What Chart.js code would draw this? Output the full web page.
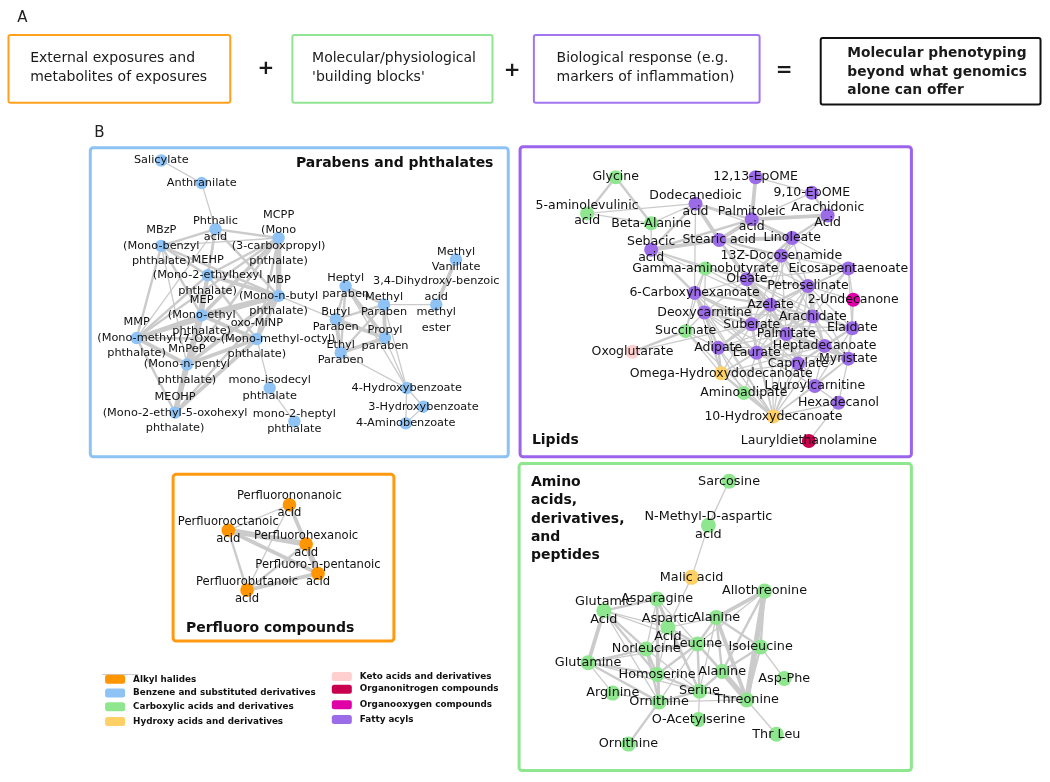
<!DOCTYPE html>
<html>
<head>
<meta charset="utf-8">
<title>Molecular phenotyping network</title>
<script src="https://cdn.jsdelivr.net/npm/chart.js@4.4.0/dist/chart.umd.min.js"></script>
<style>
  html, body { margin: 0; padding: 0; background: #fff; }
  #wrap { width: 1050px; height: 782px; }
</style>
</head>
<body>
<div id="wrap"><canvas id="network" width="1050" height="782"></canvas></div>
<script>
// ---- chemical classes (legend) ----
const classNames = ['Alkyl halides', 'Benzene and substituted derivatives', 'Carboxylic acids and derivatives',
  'Hydroxy acids and derivatives', 'Keto acids and derivatives', 'Organonitrogen compounds',
  'Organooxygen compounds', 'Fatty acyls'];
const classColors = ['#ff9500', '#8fc3f6', '#8ee68e', '#ffd066', '#ffcfcf', '#c8004e', '#e000a8', '#9b6be8'];

// ---- Parabens and phthalates ----
const pbIds = ['sal', 'ant', 'pht', 'mcpp', 'mbzp', 'mehp', 'mbp', 'mep', 'mmp', 'oxo', 'mnpep', 'meohp',
  'isod', 'hept2', 'hepP', 'metP', 'butP', 'proP', 'ethP', 'dhb', 'mvan', 'hb4', 'hb3', 'ab4'];
const pbLabels = ['Salicylate', 'Anthranilate', 'Phthalic\nacid', 'MCPP\n(Mono\n(3-carboxpropyl)\nphthalate)',
  'MBzP\n(Mono-benzyl\nphthalate)', 'MEHP\n(Mono-2-ethylhexyl\nphthalate)', 'MBP\n(Mono-n-butyl\nphthalate)',
  'MEP\n(Mono-ethyl\nphthalate)', 'MMP\n(Mono-methyl\nphthalate)', 'oxo-MiNP\n(7-Oxo-(Mono-methyl-octyl)\nphthalate)',
  'MnPeP\n(Mono-n-pentyl\nphthalate)', 'MEOHP\n(Mono-2-ethyl-5-oxohexyl\nphthalate)', 'mono-isodecyl\nphthalate',
  'mono-2-heptyl\nphthalate', 'Heptyl\nparaben', 'Methyl\nParaben', 'Butyl\nParaben', 'Propyl\nparaben',
  'Ethyl\nParaben', '3,4-Dihydroxy-benzoic\nacid\nmethyl\nester', 'Methyl\nVanillate', '4-Hydroxybenzoate',
  '3-Hydroxybenzoate', '4-Aminobenzoate'];
const pbX = [156, 197, 211, 275, 156, 203, 275, 197, 131, 253, 182, 170, 266, 291, 343, 382, 333, 383, 338, 435, 455, 405, 422, 404];
const pbY = [156, 179, 226, 235, 243, 273, 294, 314, 337, 338, 364, 413, 388, 422, 284, 303, 318, 337, 352, 303, 257, 388, 407, 424];
const pbClass = [1, 1, 1, 1, 1, 1, 1, 1, 1, 1, 1, 1, 1, 1, 1, 1, 1, 1, 1, 1, 1, 1, 1, 1];
const pbEdges = [
  ['sal', 'ant', 1], ['ant', 'pht', 1],
  ['pht', 'mbzp', 2], ['pht', 'mcpp', 2], ['pht', 'mehp', 2], ['pht', 'mbp', 2], ['pht', 'mep', 2], ['pht', 'mmp', 1],
  ['mcpp', 'mehp', 2], ['mcpp', 'mbp', 4], ['mcpp', 'mep', 3], ['mcpp', 'mmp', 2], ['mcpp', 'oxo', 2], ['mcpp', 'mnpep', 2], ['mcpp', 'mbzp', 1],
  ['mbzp', 'mehp', 2], ['mbzp', 'mep', 2], ['mbzp', 'mmp', 2], ['mbzp', 'mnpep', 1], ['mbzp', 'mbp', 2],
  ['mehp', 'mbp', 3], ['mehp', 'mep', 3], ['mehp', 'mmp', 2], ['mehp', 'mnpep', 2], ['mehp', 'meohp', 2], ['mehp', 'oxo', 2],
  ['mbp', 'mep', 4], ['mbp', 'mmp', 3], ['mbp', 'oxo', 3], ['mbp', 'mnpep', 3], ['mbp', 'meohp', 2], ['mbp', 'butP', 1],
  ['mep', 'mmp', 3], ['mep', 'oxo', 3], ['mep', 'mnpep', 4], ['mep', 'meohp', 3],
  ['mmp', 'mnpep', 3], ['mmp', 'oxo', 2], ['mmp', 'meohp', 2],
  ['oxo', 'mnpep', 3], ['oxo', 'meohp', 3], ['oxo', 'isod', 1], ['mnpep', 'meohp', 4], ['isod', 'hept2', 1],
  ['hepP', 'butP', 2], ['hepP', 'metP', 2], ['hepP', 'proP', 3], ['hepP', 'ethP', 2], ['hepP', 'hb4', 1],
  ['metP', 'butP', 2], ['metP', 'proP', 3], ['metP', 'ethP', 2], ['metP', 'dhb', 1], ['metP', 'hb4', 1],
  ['butP', 'proP', 3], ['butP', 'ethP', 3], ['proP', 'ethP', 3], ['proP', 'hb4', 1], ['ethP', 'hb4', 1],
  ['dhb', 'mvan', 3], ['hb4', 'hb3', 1], ['hb4', 'ab4', 1], ['hb3', 'ab4', 1]
];

// ---- Lipids ----
const lpIds = ['gly', 'ala5', 'bala', 'dod', 'ep1213', 'ep910', 'palo', 'arach', 'seb', 'stea', 'lino', 'doco',
  'gaba', 'epa', 'ole', 'pet', 'carb6', 'und', 'aze', 'arachd', 'deoxy', 'sub', 'ela', 'succ', 'palm', 'oxog',
  'adip', 'laur', 'hepta', 'capr', 'myri', 'omega', 'laurc', 'amad', 'hexd', 'hyd10', 'laurd'];
const lpLabels = ['Glycine', '5-aminolevulinic\nacid', 'Beta-Alanine', 'Dodecanedioic\nacid', '12,13-EpOME',
  '9,10-EpOME', 'Palmitoleic\nacid', 'Arachidonic\nAcid', 'Sebacic\nacid', 'Stearic acid', 'Linoleate',
  '13Z-Docosenamide', 'Gamma-aminobutyrate', 'Eicosapentaenoate', 'Oleate', 'Petroselinate', '6-Carboxyhexanoate',
  '2-Undecanone', 'Azelate', 'Arachidate', 'Deoxycarnitine', 'Suberate', 'Elaidate', 'Succinate', 'Palmitate',
  'Oxoglutarate', 'Adipate', 'Laurate', 'Heptadecanoate', 'Caprylate', 'Myristate', 'Omega-Hydroxydodecanoate',
  'Lauroylcarnitine', 'Aminoadipate', 'Hexadecanol', '10-Hydroxydecanoate', 'Lauryldiethanolamine'];
const lpX = [617, 588, 653, 698, 759, 816, 755, 832, 653, 722, 796, 785, 708, 853, 750, 812, 697, 858, 774, 817,
  707, 755, 857, 688, 790, 634, 721, 760, 829, 802, 853, 724, 819, 747, 843, 777, 813];
const lpY = [173, 210, 220, 200, 173, 189, 216, 212, 247, 237, 235, 253, 266, 266, 277, 284, 291, 298, 303, 315,
  311, 323, 327, 330, 333, 351, 347, 352, 345, 363, 358, 373, 386, 393, 403, 417, 442];
const lpClass = [2, 2, 2, 7, 7, 7, 7, 7, 7, 7, 7, 7, 2, 7, 7, 7, 7, 6, 7, 7, 7, 7, 7, 2, 7, 4, 7, 7, 7, 7, 7, 3, 7, 2, 7, 3, 5];
const lpEdges = [
  ['gly', 'ala5', 2], ['gly', 'bala', 2], ['ala5', 'bala', 1], ['ala5', 'dod', 1], ['bala', 'dod', 1], ['bala', 'seb', 1],
  ['dod', 'seb', 2], ['dod', 'stea', 3], ['dod', 'palo', 2], ['dod', 'carb6', 1], ['dod', 'lino', 1],
  ['ep1213', 'palo', 3], ['ep1213', 'ep910', 1], ['ep910', 'arach', 2], ['ep910', 'palo', 1],
  ['palo', 'arach', 3], ['palo', 'stea', 3], ['palo', 'lino', 2], ['palo', 'seb', 2], ['arach', 'lino', 2], ['arach', 'doco', 1],
  ['stea', 'seb', 3], ['stea', 'lino', 3], ['stea', 'ole', 2], ['stea', 'doco', 2], ['stea', 'aze', 1], ['stea', 'pet', 1],
  ['lino', 'doco', 2], ['lino', 'ole', 2], ['lino', 'pet', 1], ['lino', 'aze', 1], ['lino', 'epa', 1],
  ['seb', 'gaba', 1], ['seb', 'carb6', 2], ['seb', 'ole', 1], ['seb', 'aze', 1],
  ['gaba', 'carb6', 1], ['gaba', 'deoxy', 1], ['gaba', 'succ', 1], ['gaba', 'ole', 1], ['gaba', 'aze', 1],
  ['doco', 'ole', 2], ['doco', 'pet', 2], ['doco', 'epa', 1], ['doco', 'aze', 1], ['doco', 'sub', 1], ['doco', 'arachd', 1], ['doco', 'palm', 1],
  ['epa', 'und', 1], ['epa', 'pet', 1], ['epa', 'ole', 1], ['epa', 'ela', 1], ['epa', 'arachd', 1], ['epa', 'palm', 1], ['epa', 'aze', 1],
  ['ole', 'pet', 2], ['ole', 'aze', 2], ['ole', 'sub', 2], ['ole', 'palm', 2], ['ole', 'carb6', 1], ['ole', 'deoxy', 1],
  ['ole', 'arachd', 1], ['ole', 'laur', 1], ['ole', 'hepta', 1], ['ole', 'ela', 1], ['ole', 'capr', 1],
  ['pet', 'aze', 2], ['pet', 'arachd', 2], ['pet', 'ela', 1], ['pet', 'palm', 2], ['pet', 'hepta', 1], ['pet', 'und', 1],
  ['pet', 'sub', 1], ['pet', 'laur', 1], ['pet', 'myri', 1], ['pet', 'capr', 1],
  ['carb6', 'aze', 2], ['carb6', 'deoxy', 2], ['carb6', 'sub', 2], ['carb6', 'adip', 1], ['carb6', 'succ', 1], ['carb6', 'hyd10', 1],
  ['carb6', 'palm', 1], ['carb6', 'laur', 1], ['carb6', 'omega', 1],
  ['und', 'ela', 1], ['und', 'myri', 1],
  ['aze', 'arachd', 2], ['aze', 'deoxy', 2], ['aze', 'sub', 2], ['aze', 'palm', 2], ['aze', 'laur', 1], ['aze', 'adip', 1],
  ['aze', 'hepta', 1], ['aze', 'hyd10', 1], ['aze', 'ela', 1], ['aze', 'capr', 1], ['aze', 'myri', 1],
  ['arachd', 'ela', 2], ['arachd', 'palm', 2], ['arachd', 'hepta', 2], ['arachd', 'sub', 1], ['arachd', 'capr', 1], ['arachd', 'myri', 1],
  ['arachd', 'laur', 1], ['arachd', 'adip', 1], ['arachd', 'hyd10', 1],
  ['deoxy', 'sub', 2], ['deoxy', 'adip', 2], ['deoxy', 'succ', 1], ['deoxy', 'laur', 1], ['deoxy', 'omega', 1], ['deoxy', 'hyd10', 1],
  ['deoxy', 'arachd', 1], ['deoxy', 'palm', 1], ['deoxy', 'capr', 1],
  ['sub', 'palm', 2], ['sub', 'adip', 2], ['sub', 'laur', 2], ['sub', 'hepta', 1], ['sub', 'capr', 1], ['sub', 'omega', 1], ['sub', 'hyd10', 1],
  ['sub', 'myri', 1], ['sub', 'ela', 1],
  ['ela', 'hepta', 2], ['ela', 'myri', 1], ['ela', 'palm', 1], ['ela', 'laurc', 1],
  ['succ', 'adip', 1], ['succ', 'oxog', 2], ['succ', 'omega', 1], ['succ', 'hyd10', 1], ['oxog', 'sub', 1],
  ['palm', 'laur', 2], ['palm', 'hepta', 2], ['palm', 'capr', 2], ['palm', 'myri', 1], ['palm', 'adip', 1], ['palm', 'hyd10', 1],
  ['palm', 'omega', 1], ['palm', 'laurc', 1],
  ['adip', 'laur', 2], ['adip', 'omega', 2], ['adip', 'capr', 1], ['adip', 'amad', 1], ['adip', 'hyd10', 1],
  ['laur', 'capr', 2], ['laur', 'hepta', 1], ['laur', 'omega', 1], ['laur', 'laurc', 1], ['laur', 'hyd10', 1], ['laur', 'amad', 1], ['laur', 'myri', 1],
  ['hepta', 'capr', 2], ['hepta', 'myri', 2], ['hepta', 'laurc', 1], ['hepta', 'adip', 1], ['hepta', 'omega', 1], ['hepta', 'hyd10', 1],
  ['capr', 'myri', 1], ['capr', 'laurc', 1], ['capr', 'omega', 1], ['capr', 'hyd10', 1],
  ['myri', 'laurc', 1], ['myri', 'hexd', 1], ['myri', 'hyd10', 1], ['omega', 'amad', 1], ['omega', 'hyd10', 2],
  ['laurc', 'hexd', 1], ['laurc', 'hyd10', 1], ['laurc', 'amad', 1], ['amad', 'hyd10', 2],
  ['hexd', 'hyd10', 1], ['hexd', 'laurd', 1]
];

// ---- Perfluoro compounds ----
const pfIds = ['pfna', 'pfoa', 'pfhx', 'pfpe', 'pfba'];
const pfLabels = ['Perfluorononanoic\nacid', 'Perfluorooctanoic\nacid', 'Perfluorohexanoic\nacid',
  'Perfluoro-n-pentanoic\nacid', 'Perfluorobutanoic\nacid'];
const pfX = [286, 224, 303, 315, 243];
const pfY = [507, 533, 547, 577, 594];
const pfClass = [0, 0, 0, 0, 0];
const pfEdges = [
  ['pfna', 'pfoa', 1], ['pfna', 'pfhx', 3], ['pfna', 'pfba', 1], ['pfoa', 'pfhx', 4], ['pfoa', 'pfpe', 3],
  ['pfoa', 'pfba', 2], ['pfhx', 'pfpe', 4], ['pfhx', 'pfba', 2], ['pfpe', 'pfba', 3]
];

// ---- Amino acids, derivatives, and peptides ----
const amIds = ['sarc', 'nmda', 'malic', 'allo', 'glu', 'asn', 'asp', 'ala1', 'leu', 'ile', 'nle', 'gln', 'hser',
  'ala2', 'aspphe', 'arg', 'ser', 'thr', 'orn1', 'oaser', 'thrleu', 'orn2'];
const amLabels = ['Sarcosine', 'N-Methyl-D-aspartic\nacid', 'Malic acid', 'Allothreonine', 'Glutamic\nAcid',
  'Asparagine', 'Aspartic\nAcid', 'Alanine', 'Leucine', 'Isoleucine', 'Norleucine', 'Glutamine', 'Homoserine',
  'Alanine', 'Asp-Phe', 'Arginine', 'Serine', 'Threonine', 'Ornithine', 'O-Acetylserine', 'Thr Leu', 'Ornithine'];
const amX = [732, 711, 694, 768, 605, 659, 670, 719, 700, 764, 648, 589, 659, 725, 788, 614, 702, 750, 661, 701, 780, 630];
const amY = [483, 528, 581, 595, 615, 603, 632, 622, 649, 652, 654, 668, 680, 677, 684, 699, 697, 706, 708, 726, 741, 751];
const amClass = [2, 2, 3, 2, 2, 2, 2, 2, 2, 2, 2, 2, 2, 2, 2, 2, 2, 2, 2, 2, 2, 2];
const amEdges = [
  ['sarc', 'nmda', 1], ['nmda', 'malic', 1], ['malic', 'asp', 1],
  ['glu', 'asn', 2], ['glu', 'gln', 3], ['glu', 'nle', 2], ['glu', 'hser', 2], ['glu', 'leu', 1], ['glu', 'asp', 1], ['glu', 'orn1', 1],
  ['asn', 'asp', 2], ['asn', 'hser', 2], ['asn', 'nle', 1], ['asn', 'orn1', 2], ['asn', 'ser', 2], ['asn', 'leu', 1],
  ['asp', 'leu', 2], ['asp', 'nle', 1], ['asp', 'hser', 1], ['asp', 'ser', 1],
  ['ala1', 'allo', 3], ['ala1', 'ile', 2], ['ala1', 'thr', 3], ['ala1', 'leu', 2], ['ala1', 'ala2', 2], ['ala1', 'ser', 1], ['ala1', 'asp', 1],
  ['allo', 'ile', 2], ['allo', 'thr', 4], ['allo', 'ala2', 2], ['allo', 'leu', 1],
  ['ile', 'ala2', 2], ['ile', 'thr', 2], ['ile', 'aspphe', 1], ['ile', 'leu', 1],
  ['ala2', 'thr', 4], ['ala2', 'ser', 2], ['ala2', 'leu', 2],
  ['leu', 'hser', 2], ['leu', 'nle', 2], ['leu', 'ser', 2], ['leu', 'thr', 2], ['leu', 'gln', 1], ['leu', 'orn1', 1],
  ['gln', 'hser', 2], ['gln', 'nle', 2], ['gln', 'arg', 1], ['gln', 'orn1', 2], ['gln', 'ser', 1],
  ['nle', 'hser', 2], ['nle', 'orn1', 2], ['nle', 'ser', 1], ['hser', 'orn1', 2], ['hser', 'ser', 2],
  ['arg', 'orn1', 1], ['orn1', 'ser', 2], ['orn1', 'orn2', 2], ['orn1', 'thr', 1],
  ['ser', 'oaser', 1], ['ser', 'thr', 2], ['thr', 'thrleu', 1]
];

// ---- panel A text ----
const headerLines = [
  ['External exposures and', 'metabolites of exposures'],
  ['Molecular/physiological', "'building blocks'"],
  ['Biological response (e.g.', 'markers of inflammation)'],
  ['Molecular phenotyping', 'beyond what genomics', 'alone can offer']
];
const headerOps = ['+', '+', '='];

// ---- layout (positions, sizes, styles) ----
const FONT = '"DejaVu Sans", Verdana, sans-serif';
const edgeWidths = [0, 1.3, 2.4, 3.8, 5.5];
const edgeColor = '#cbcbcb';
const clusters = [
  { ids: pbIds, labels: pbLabels, xs: pbX, ys: pbY, cls: pbClass, edges: pbEdges, radius: 6.2, font: 11.3, lineH: 15.5 },
  { ids: lpIds, labels: lpLabels, xs: lpX, ys: lpY, cls: lpClass, edges: lpEdges, radius: 7, font: 12.5, lineH: 15.5 },
  { ids: pfIds, labels: pfLabels, xs: pfX, ys: pfY, cls: pfClass, edges: pfEdges, radius: 6.8, font: 11.6, lineH: 17 },
  { ids: amIds, labels: amLabels, xs: amX, ys: amY, cls: amClass, edges: amEdges, radius: 7.5, font: 12.8, lineH: 18 }
];
const headerBoxes = [
  { x0: 1, y0: 28, x1: 226, y1: 97, color: '#ffa11e', tx: 23, ty: [52, 71], bold: false },
  { x0: 289, y0: 28, x1: 492, y1: 97, color: '#92e492', tx: 309, ty: [52, 71], bold: false },
  { x0: 534, y0: 28, x1: 763, y1: 97, color: '#a274f0', tx: 557, ty: [52, 71], bold: false },
  { x0: 825, y0: 31, x1: 1048, y1: 99, color: '#111111', tx: 852, ty: [47, 66, 85], bold: true }
];
const opPos = [[262, 63], [512, 65], [788, 65]];
const panelBoxes = [
  { x0: 84, y0: 143, x1: 508, y1: 458, color: '#8cc2f4' },
  { x0: 520, y0: 142, x1: 917, y1: 458, color: '#9c63ec' },
  { x0: 168, y0: 476, x1: 392, y1: 646, color: '#ff9a10' },
  { x0: 519, y0: 465, x1: 917, y1: 778, color: '#8ee68e' }
];
const panelTitles = [
  { lines: ['Parabens and phthalates'], x: 493, y: 159, align: 'right' },
  { lines: ['Lipids'], x: 532, y: 441, align: 'left' },
  { lines: ['Perfluoro compounds'], x: 181, y: 633, align: 'left' },
  { lines: ['Amino', 'acids,', 'derivatives,', 'and', 'peptides'], x: 531, y: 484, align: 'left', lineH: 18.7 }
];
const legendPos = [
  [99, 685], [99, 699], [99, 713], [99, 728], [329, 682], [329, 695], [329, 711], [329, 726]
];

// ---- build datasets ----
function lookup(c, id) {
  const i = c.ids.indexOf(id);
  return { x: c.xs[i], y: c.ys[i] };
}

const datasets = [];
clusters.forEach(c => {
  c.edges.forEach(e => {
    datasets.push({
      data: [lookup(c, e[0]), lookup(c, e[1])],
      showLine: true,
      borderColor: edgeColor,
      borderWidth: edgeWidths[e[2]],
      pointRadius: 0,
      pointHoverRadius: 0,
      order: 2
    });
  });
});
clusters.forEach(c => {
  datasets.push({
    data: c.ids.map((id, i) => ({ x: c.xs[i], y: c.ys[i] })),
    pointRadius: c.radius,
    pointHoverRadius: c.radius,
    pointBorderWidth: 0,
    backgroundColor: c.cls.map(k => classColors[k]),
    borderColor: c.cls.map(k => classColors[k]),
    order: 1
  });
});

function roundRect(ctx, x, y, w, h, r) {
  ctx.beginPath();
  ctx.moveTo(x + r, y);
  ctx.arcTo(x + w, y, x + w, y + h, r);
  ctx.arcTo(x + w, y + h, x, y + h, r);
  ctx.arcTo(x, y + h, x, y, r);
  ctx.arcTo(x, y, x + w, y, r);
  ctx.closePath();
}

// panels, headers, titles and legend behind the network
const backdropPlugin = {
  id: 'backdrop',
  beforeDatasetsDraw(chart) {
    const ctx = chart.ctx;
    const X = v => chart.scales.x.getPixelForValue(v);
    const Y = v => chart.scales.y.getPixelForValue(v);
    ctx.save();
    ctx.textBaseline = 'middle';

    // panel letters
    ctx.fillStyle = '#222';
    ctx.font = '15px ' + FONT;
    ctx.textAlign = 'left';
    ctx.fillText('A', X(10), Y(11));
    ctx.fillText('B', X(88), Y(128));

    // header boxes
    headerBoxes.forEach((b, i) => {
      ctx.strokeStyle = b.color;
      ctx.lineWidth = 2;
      roundRect(ctx, X(b.x0), Y(b.y0), X(b.x1) - X(b.x0), Y(b.y1) - Y(b.y0), 2);
      ctx.stroke();
      ctx.fillStyle = '#1a1a1a';
      ctx.font = (b.bold ? 'bold 13.8px ' : '14px ') + FONT;
      headerLines[i].forEach((t, k) => ctx.fillText(t, X(b.tx), Y(b.ty[k])));
    });
    ctx.font = 'bold 20px ' + FONT;
    ctx.textAlign = 'center';
    headerOps.forEach((op, i) => ctx.fillText(op, X(opPos[i][0]), Y(opPos[i][1])));

    // panel boxes
    panelBoxes.forEach(b => {
      ctx.strokeStyle = b.color;
      ctx.lineWidth = 3;
      roundRect(ctx, X(b.x0), Y(b.y0), X(b.x1) - X(b.x0), Y(b.y1) - Y(b.y0), 3);
      ctx.stroke();
    });

    // panel titles
    ctx.fillStyle = '#111';
    ctx.font = 'bold 14px ' + FONT;
    panelTitles.forEach(t => {
      ctx.textAlign = t.align;
      t.lines.forEach((ln, k) => ctx.fillText(ln, X(t.x), Y(t.y + k * (t.lineH || 0))));
    });

    // legend
    ctx.strokeStyle = '#c9c9c9';
    ctx.lineWidth = 1;
    ctx.beginPath();
    ctx.moveTo(X(96), Y(680));
    ctx.lineTo(X(133), Y(680));
    ctx.stroke();
    ctx.font = 'bold 8.8px ' + FONT;
    ctx.textAlign = 'left';
    classNames.forEach((name, i) => {
      const [lx, ly] = legendPos[i];
      ctx.fillStyle = classColors[i];
      roundRect(ctx, X(lx), Y(ly) - 4.5, 20, 9, 2.5);
      ctx.fill();
      ctx.fillStyle = '#111';
      ctx.fillText(name, X(lx) + 28, Y(ly));
    });
    ctx.restore();
  }
};

// node labels on top of the network
const labelPlugin = {
  id: 'nodeLabels',
  afterDatasetsDraw(chart) {
    const ctx = chart.ctx;
    const xs = chart.scales.x, ys = chart.scales.y;
    ctx.save();
    ctx.fillStyle = '#111';
    ctx.textAlign = 'center';
    ctx.textBaseline = 'middle';
    clusters.forEach(c => {
      ctx.font = c.font + 'px ' + FONT;
      c.labels.forEach((lab, i) => {
        const lines = lab.split('\n');
        const px = xs.getPixelForValue(c.xs[i]);
        const py = ys.getPixelForValue(c.ys[i]);
        const top = py - (lines.length - 1) * c.lineH / 2;
        lines.forEach((ln, k) => ctx.fillText(ln, px, top + k * c.lineH));
      });
    });
    ctx.restore();
  }
};

new Chart(document.getElementById('network'), {
  type: 'scatter',
  data: { datasets: datasets },
  options: {
    responsive: false,
    animation: false,
    layout: { padding: 0 },
    plugins: { legend: { display: false }, tooltip: { enabled: false } },
    events: [],
    scales: {
      x: { type: 'linear', min: 0, max: 1050, display: false },
      y: { type: 'linear', min: 0, max: 782, reverse: true, display: false }
    }
  },
  plugins: [backdropPlugin, labelPlugin]
});
</script>
</body>
</html>
